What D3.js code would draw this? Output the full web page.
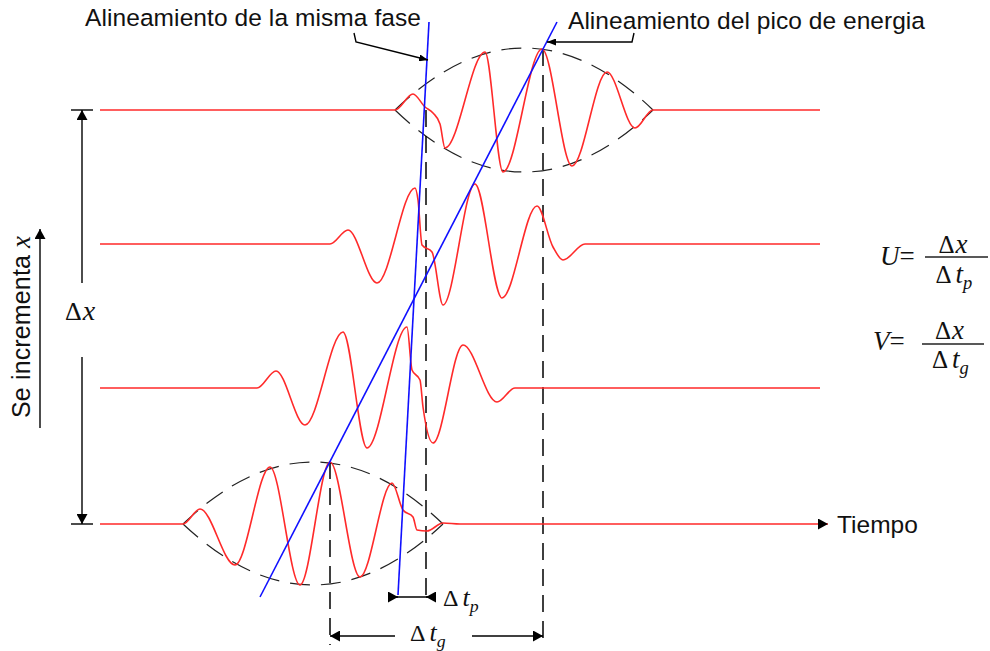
<!DOCTYPE html>
<html>
<head>
<meta charset="utf-8">
<script src="https://cdn.jsdelivr.net/npm/d3@7"></script>
<style>
  body { margin: 0; background: #fff; }
  text { fill: #111; }
</style>
</head>
<body>
<div id="chart"></div>
<script>
// 数据：四个时刻的波包（从下到上），t = 时间轴读数，a = 振幅（向上为正）
const rowPos = [0, 136, 280, 414];          // 位置 x（下 -> 上）
const wave0 = [[100,0],[183,0],[200,15],[235,-41],[270,57],[300,-61],[330,62],[360,-53],[392,41],[403,14],[413,7],[417,-6],[427,-7],[443,1],[460,0],[828,0]];
const wave1 = [[100,0],[257,0],[276,17],[305,-37],[343,56],[367,-60],[407,61],[412,18],[420,8],[423,-19],[433,-55],[463,43],[497,-14],[515,0],[820,0]];
const wave2 = [[100,0],[330,0],[348,14],[377,-39],[415,56],[418,44],[422,-1],[432,-8],[443,-61],[475,60],[502,-54],[537,38],[553,-3],[563,-16],[585,0],[820,0]];
const wave3 = [[100,0],[395,0],[413,16],[425,3],[433,-3],[440,-14],[445,-38],[485,58],[503,-62],[542,61],[572,-56],[607,38],[635,-18],[653,0],[820,0]];
const waves = [wave0, wave1, wave2, wave3];

// 包络（只画最下和最上）
const envRows = [0, 3];
const envStart = [183, 395];
const envEnd = [443, 653];
const envUp = [62, 62];
const envDown = [61, 62];

// 对齐线：[t, 位置]
const phaseLine = [[429, 502], [398, -71]];
const groupLine = [[557, 502], [260, -73]];

// 虚线竖线：[t, 位置上端, 位置下端]
const dashMarks = [[330, 62, -121], [426, 414, -74], [543, 475, -121]];

const W = 990, H = 651;
const x = d3.scaleLinear().domain([100, 820]).range([100, 820]);
const y = d3.scaleLinear().domain([0, 414]).range([524, 110]);
const amp = d3.scaleLinear().domain([-62, 62]).range([62, -62]);

const svg = d3.select("#chart").append("svg")
  .attr("width", W).attr("height", H)
  .style("display", "block");

const defs = svg.append("defs");
function marker(id, len, wid) {
  defs.append("marker")
    .attr("id", id)
    .attr("viewBox", `0 0 ${len} ${wid}`)
    .attr("refX", len).attr("refY", wid / 2)
    .attr("markerWidth", len).attr("markerHeight", wid)
    .attr("markerUnits", "userSpaceOnUse")
    .attr("orient", "auto")
    .append("path")
    .attr("d", `M0,0L${len},${wid / 2}L0,${wid}z`)
    .attr("fill", "#000");
}
marker("ah", 10, 11);
marker("ahs", 9, 7);

// 包络（虚线透镜形）
envRows.forEach((r, i) => {
  const yb = y(rowPos[r]);
  const x0 = x(envStart[i]), x1 = x(envEnd[i]), xm = (x0 + x1) / 2;
  const p = d3.path();
  p.moveTo(x0, yb);
  p.quadraticCurveTo(xm, yb + 2 * amp(envUp[i]), x1, yb);
  p.moveTo(x0, yb);
  p.quadraticCurveTo(xm, yb + 2 * amp(-envDown[i]), x1, yb);
  svg.append("path")
    .attr("d", p.toString())
    .attr("fill", "none")
    .attr("stroke", "#222")
    .attr("stroke-width", 1.2)
    .attr("stroke-dasharray", "20,11");
});

// 虚线竖线
svg.append("g").selectAll("line")
  .data(dashMarks)
  .enter().append("line")
  .attr("x1", d => x(d[0])).attr("x2", d => x(d[0]))
  .attr("y1", d => y(d[1])).attr("y2", d => y(d[2]))
  .attr("stroke", "#000")
  .attr("stroke-width", 1.5)
  .attr("stroke-dasharray", "17,9");

// 红色波形
waves.forEach((w, r) => {
  const line = d3.line()
    .x(d => x(d[0]))
    .y(d => y(rowPos[r]) + amp(d[1]))
    .curve(d3.curveMonotoneX);
  const path = svg.append("path")
    .attr("d", line(w))
    .attr("fill", "none")
    .attr("stroke", "#ff2a2a")
    .attr("stroke-width", 1.6);
  if (r === 0) path.attr("marker-end", "url(#ah)");
});

// 蓝色对齐线
[phaseLine, groupLine].forEach(l => {
  svg.append("line")
    .attr("x1", x(l[0][0])).attr("y1", y(l[0][1]))
    .attr("x2", x(l[1][0])).attr("y2", y(l[1][1]))
    .attr("stroke", "#1010ff")
    .attr("stroke-width", 1.6);
});

// 通用：带箭头的线
function arrow(pts, mk) {
  svg.append("path")
    .attr("d", d3.line()(pts))
    .attr("fill", "none")
    .attr("stroke", "#000")
    .attr("stroke-width", 1.4)
    .attr("marker-end", mk ? `url(#${mk})` : null);
}

// Δx 标注
const xDim = 82;
arrow([[xDim, 283], [xDim, y(rowPos[3])]], "ah");
arrow([[xDim, 357], [xDim, y(rowPos[0])]], "ah");
arrow([[71, y(rowPos[3])], [93, y(rowPos[3])]]);
arrow([[71, y(rowPos[0])], [93, y(rowPos[0])]]);

// 左侧 "Se incrementa x"
arrow([[40, 428], [40, 229]], "ah");

// 引线
arrow([[354, 33], [356, 42], [x(phaseLine[0][0]) - 1, 60]], "ahs");
arrow([[634, 33], [632, 42], [547, 42]], "ahs");

// Δtp / Δtg 尺寸线
const yTp = 597, yTg = 636;
arrow([[389, yTp], [435, yTp]]);
arrow([[388, yTp], [x(398), yTp]], "ah");
arrow([[436, yTp], [x(426), yTp]], "ah");
arrow([[395, yTg], [x(330), yTg]], "ah");
arrow([[472, yTg], [x(543), yTg]], "ah");

// 文字
const sans = "'Liberation Sans', Arial, sans-serif";
const serif = "'Liberation Serif', 'Times New Roman', serif";

svg.append("text")
  .attr("x", 85).attr("y", 26)
  .attr("font-family", sans).attr("font-size", 24.5)
  .attr("textLength", 336).attr("lengthAdjust", "spacing")
  .text("Alineamiento de la misma fase");

svg.append("text")
  .attr("x", 568).attr("y", 29)
  .attr("font-family", sans).attr("font-size", 24.5)
  .attr("textLength", 357).attr("lengthAdjust", "spacing")
  .text("Alineamiento del pico de energia");

svg.append("text")
  .attr("x", 837).attr("y", 533)
  .attr("font-family", sans).attr("font-size", 24.5)
  .text("Tiempo");

const side = svg.append("text")
  .attr("transform", "translate(30,418) rotate(-90)")
  .attr("font-family", sans).attr("font-size", 25);
side.append("tspan").text("Se incrementa ").attr("textLength", 170);
side.append("tspan").attr("font-family", serif).attr("font-style", "italic").attr("font-size", 27).text("x");

function deltaText(px, py, sub, size) {
  const t = svg.append("text")
    .attr("x", px).attr("y", py)
    .attr("font-family", serif).attr("font-size", size);
  t.append("tspan").text("Δ");
  if (sub === "x") {
    t.append("tspan").attr("font-style", "italic").attr("dx", 1).attr("font-size", size * 1.08).text("x");
  } else {
    t.append("tspan").attr("font-style", "italic").attr("dx", 4).attr("font-size", size * 1.08).text("t");
    t.append("tspan").attr("font-style", "italic").attr("font-size", size * 0.74).attr("dy", size * 0.24).text(sub);
  }
  return t;
}

deltaText(65, 320, "x", 26);
deltaText(443, 606, "p", 24);
deltaText(410, 641, "g", 24);

// 公式
function formula(letter, lx, ly, x0, x1, by, nY, dY, sub) {
  const t = svg.append("text")
    .attr("x", lx).attr("y", ly)
    .attr("font-family", serif).attr("font-size", 27);
  t.append("tspan").attr("font-style", "italic").text(letter);
  t.append("tspan").text("=");
  svg.append("line")
    .attr("x1", x0).attr("x2", x1).attr("y1", by).attr("y2", by)
    .attr("stroke", "#222").attr("stroke-width", 1.4);
  deltaText((x0 + x1) / 2 - 18, nY, "x", 25);
  deltaText((x0 + x1) / 2 - 21, dY, sub, 25);
}
formula("U", 880, 265, 925, 988, 257, 253, 283, "p");
formula("V", 873, 350, 922, 984, 344, 339, 368, "g");
</script>
</body>
</html>
